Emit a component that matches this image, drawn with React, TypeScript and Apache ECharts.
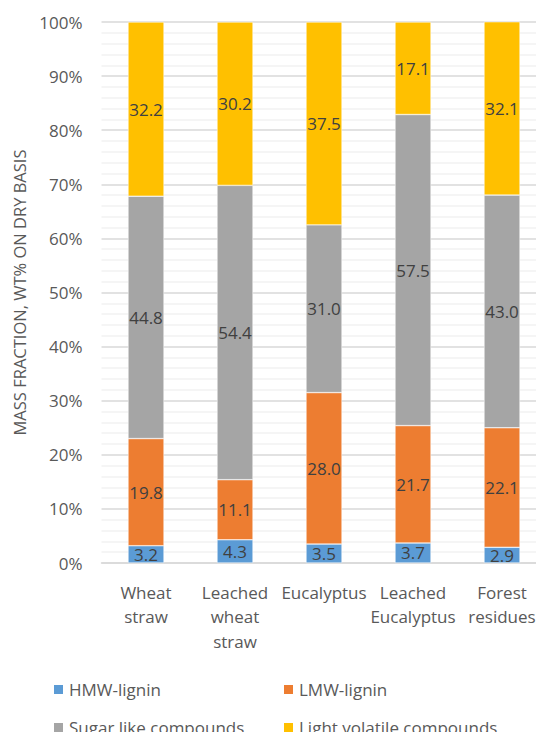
import React, { useEffect, useRef } from "react";
import * as echarts from "echarts";

const categories = [
  "Wheat\nstraw",
  "Leached\nwheat\nstraw",
  "Eucalyptus",
  "Leached\nEucalyptus",
  "Forest\nresidues",
];
const hmwLignin = [3.2, 4.3, 3.5, 3.7, 2.9];
const lmwLignin = [19.8, 11.1, 28.0, 21.7, 22.1];
const sugarLike = [44.8, 54.4, 31.0, 57.5, 43.0];
const lightVolatile = [32.2, 30.2, 37.5, 17.1, 32.1];
const seriesNames = ["HMW-lignin", "LMW-lignin", "Sugar like compounds", "Light volatile compounds"];
const colors = ["#5B9BD5", "#ED7D31", "#A5A5A5", "#FFC000"];

const FONT = "'Open Sans', sans-serif";

export default function App() {
  const ref = useRef<HTMLDivElement>(null);
  useEffect(() => {
    if (!ref.current) return;
    const chart = echarts.init(ref.current, null, { renderer: "svg" });
    const data = [hmwLignin, lmwLignin, sugarLike, lightVolatile];
    const legendPos = [
      { left: 52, top: 681 },
      { left: 282, top: 681 },
      { left: 52, top: 719 },
      { left: 282, top: 719 },
    ];
    chart.setOption({
      animation: false,
      color: colors,
      grid: { left: 101.5, top: 22, width: 445, height: 541, containLabel: false },
      xAxis: {
        type: "category",
        data: categories,
        axisLine: { show: true, lineStyle: { color: "#D9D9D9", width: 1.5 } },
        axisTick: { show: false },
        axisLabel: {
          color: "#595959",
          fontFamily: FONT,
          fontSize: 17,
          lineHeight: 24.5,
          margin: 17,
          interval: 0,
        },
      },
      yAxis: {
        type: "value",
        min: 0,
        max: 100,
        interval: 10,
        name: "MASS FRACTION, WT% ON DRY BASIS",
        nameLocation: "middle",
        nameRotate: 90,
        nameGap: 73,
        nameTextStyle: { color: "#595959", fontFamily: FONT, fontSize: 16.5 },
        axisLine: { show: false },
        axisTick: { show: false },
        axisLabel: {
          formatter: "{value}%",
          color: "#595959",
          fontFamily: FONT,
          fontSize: 17,
          margin: 19,
        },
        splitLine: { show: true, lineStyle: { color: "#D9D9D9", width: 1.5 } },
        minorTick: { show: false, splitNumber: 5 },
        minorSplitLine: { show: true, lineStyle: { color: "#F2F2F2", width: 1.5 } },
      },
      legend: seriesNames.map((n, i) => ({
        data: [n],
        left: legendPos[i].left,
        top: legendPos[i].top,
        itemWidth: 11,
        itemHeight: 11,
        itemGap: 0,
        icon: "rect",
        padding: 0,
        textStyle: { color: "#595959", fontFamily: FONT, fontSize: 17, padding: [0, 0, 0, 0] },
      })),
      series: seriesNames.map((n, i) => ({
        name: n,
        type: "bar",
        stack: "total",
        barWidth: 36,
        data: data[i],
        itemStyle: { color: colors[i], borderColor: "#FFFFFF", borderWidth: 0.5 },
        label: {
          show: true,
          position: "inside",
          color: "#404040",
          fontFamily: FONT,
          fontSize: 17,
          formatter: (p: any) => Number(p.value).toFixed(1),
        },
      })),
    });
    return () => chart.dispose();
  }, []);
  return (
    <div style={{ position: "fixed", left: 0, top: 0, width: 536, height: 732, overflow: "hidden", background: "#fff" }}>
      <div ref={ref} style={{ position: "absolute", left: 0, top: 0, width: 570, height: 732 }} />
    </div>
  );
}
